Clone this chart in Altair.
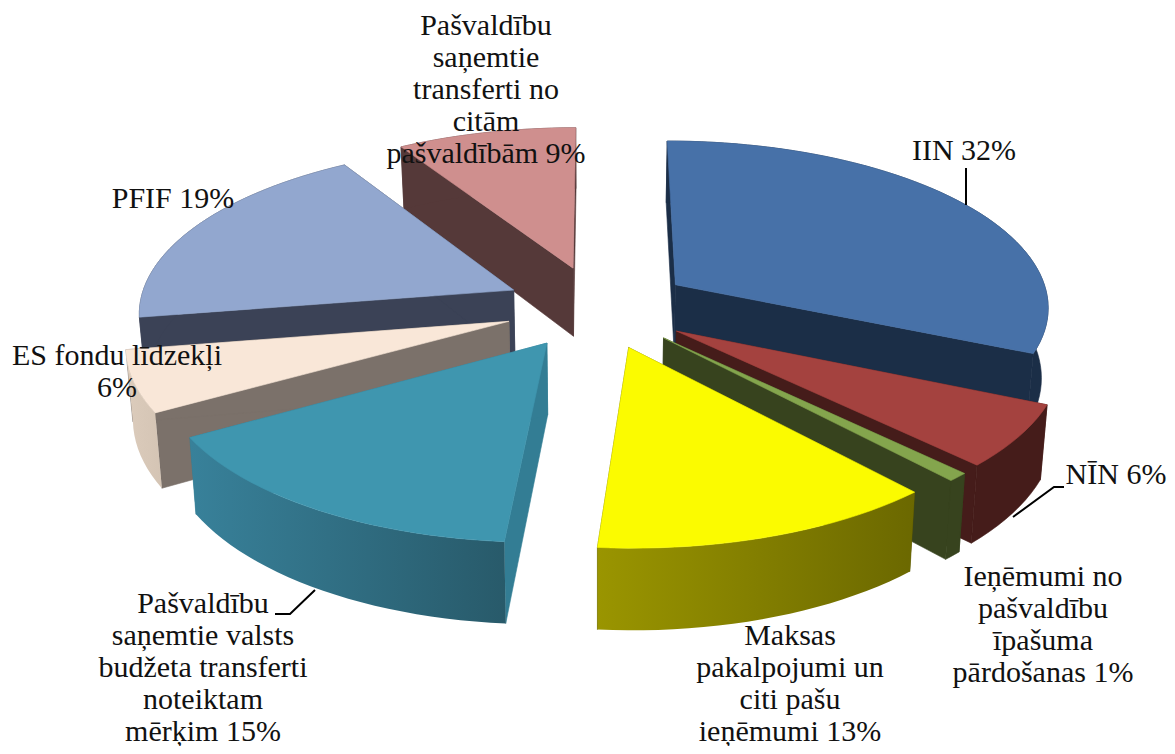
import math
import altair as alt
import pandas as pd

# --- values -----------------------------------------------------------------
names = ["IIN", "NIN", "Ipasums", "Maksas", "Transferti", "ES", "PFIF", "Citas"]
shares = [32, 6, 0.8, 13, 15.4, 5.9, 19, 8.9]
top_colors = ["#4771A8", "#A4423F", "#84A54D", "#FBFB00", "#3F96AF", "#F9E7D8", "#92A7CF", "#CF8F8E"]
cut_colors = ["#1B2E47", "#451C1A", "#37431E", "#5A5800", "#337D94", "#7B716A", "#3B4256", "#553939"]
rim_left = ["#1B2E47", "#451C1A", "#37431E", "#9A9500", "#38819A", "#DCCCBC", "#3B4256", "#553939"]
rim_right = ["#1B2E47", "#451C1A", "#37431E", "#6B6800", "#285A6A", "#D4C4B4", "#3B4256", "#553939"]
paint_order = [7, 6, 5, 4, 0, 1, 2, 3]

label_texts = [
    "IIN 32%",
    "NĪN 6%",
    "Ieņēmumi no\npašvaldību\nīpašuma\npārdošanas 1%",
    "Maksas\npakalpojumi un\nciti pašu\nieņēmumi 13%",
    "Pašvaldību\nsaņemtie valsts\nbudžeta transferti\nnoteiktam\nmērķim 15%",
    "ES fondu līdzekļi\n6%",
    "PFIF 19%",
    "Pašvaldību\nsaņemtie\ntransferti no\ncitām\npašvaldībām 9%",
]
label_x = [964, 1116, 1043, 790, 203, 117, 173, 486]
label_y = [160, 484, 586, 645, 613, 365, 208, 35]
leader_x = [[966, 966], [1013, 1054, 1064], [315, 290, 275]]
leader_y = [[205, 168], [517, 487, 487], [590, 614, 614]]

# --- projection of the 3-D pie ----------------------------------------------
CX, CY = 598, 307
RX, RY = 375, 166
PERSP = 0.12
EXPLODE = 0.25
DEPTH = 70
SHRINK = 0.985
W, H = 1159, 738


def project(px, py, low):
    s = 1 / (1 + PERSP * py)
    x = RX * px * s
    y = CY - RY * py * s
    if low:
        x *= SHRINK
        y += DEPTH * s
    return CX + x, y


total = sum(shares)
edges = [0]
for v in shares:
    edges.append(edges[-1] + v / total * 360)


def polygon(pts):
    pts = list(pts) + [pts[0]]
    return pd.DataFrame({"x": [p[0] for p in pts], "y": [p[1] for p in pts], "i": range(len(pts))})


x_scale = alt.Scale(domain=[8, 8 + W], nice=False, zero=False)
y_scale = alt.Scale(domain=[8 + H, 8], nice=False, zero=False)


def face(pts, fill):
    return (
        alt.Chart(polygon(pts))
        .mark_line(fill=fill, stroke=fill if isinstance(fill, str) else "#00000000", strokeWidth=0.6, clip=False)
        .encode(
            x=alt.X("x:Q", scale=x_scale, axis=None),
            y=alt.Y("y:Q", scale=y_scale, axis=None),
            order="i:Q",
        )
    )


layers = []
for k in paint_order:
    a0, a1 = edges[k], edges[k + 1]
    mid = math.radians((a0 + a1) / 2)
    ox, oy = EXPLODE * math.sin(mid), EXPLODE * math.cos(mid)
    n = max(3, int((a1 - a0) / 2))
    rim = []
    for j in range(n + 1):
        t = math.radians(a0 + (a1 - a0) * j / n)
        rim.append((ox + math.sin(t), oy + math.cos(t)))
    apex_t = project(ox, oy, False)
    apex_b = project(ox, oy, True)
    rim_t = [project(p[0], p[1], False) for p in rim]
    rim_b = [project(p[0], p[1], True) for p in rim]
    # the two cut faces
    layers.append(face([apex_t, rim_t[0], rim_b[0], apex_b], cut_colors[k]))
    layers.append(face([apex_t, rim_t[-1], rim_b[-1], apex_b], cut_colors[k]))
    # the outer rim
    if rim_left[k] == rim_right[k]:
        rim_fill = rim_left[k]
    else:
        rim_fill = alt.Gradient(
            gradient="linear", x1=0, x2=1, y1=0, y2=0,
            stops=[alt.GradientStop(offset=0, color=rim_left[k]),
                   alt.GradientStop(offset=1, color=rim_right[k])],
        )
    layers.append(face(rim_t + rim_b[::-1], rim_fill))
    # the top
    layers.append(face([apex_t] + rim_t, top_colors[k]))

for lx, ly in zip(leader_x, leader_y):
    df = pd.DataFrame({"x": lx, "y": ly, "i": range(len(lx))})
    layers.append(
        alt.Chart(df)
        .mark_line(color="#000000", strokeWidth=2)
        .encode(
            x=alt.X("x:Q", scale=x_scale, axis=None),
            y=alt.Y("y:Q", scale=y_scale, axis=None),
            order="i:Q",
        )
    )

labels = pd.DataFrame({"t": label_texts, "x": label_x, "y": label_y})
layers.append(
    alt.Chart(labels)
    .mark_text(font="Liberation Serif", fontSize=30, lineBreak="\n", lineHeight=32,
               align="center", baseline="alphabetic", color="#111111")
    .encode(
        x=alt.X("x:Q", scale=x_scale, axis=None),
        y=alt.Y("y:Q", scale=y_scale, axis=None),
        text="t:N",
    )
)

chart = (
    alt.layer(*layers)
    .properties(width=W, height=H, padding=0, autosize=alt.AutoSizeParams(type="none"))
    .configure_view(stroke=None)
)
chart.save("out.html", embed_options={"renderer": "svg", "actions": False})
